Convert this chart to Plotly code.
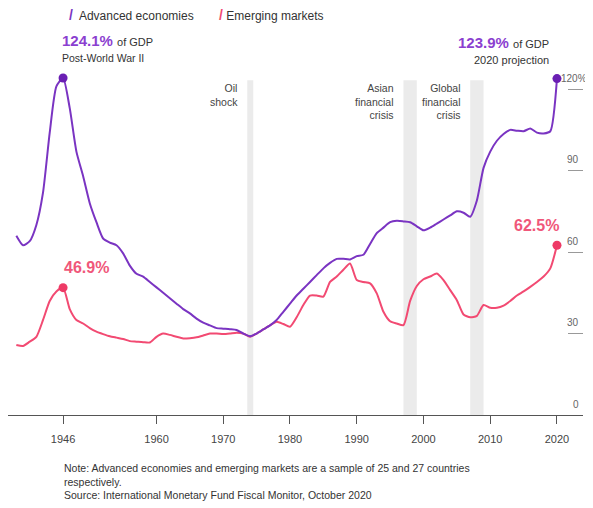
import plotly.graph_objects as go

# ---- data ----
years = list(range(1939, 2021))
advanced = [
    66, 62.5, 64, 70, 82, 104, 121, 124.1, 113, 97,          # 1939-1948
    88, 78, 71, 65, 63.5, 62.5, 59.5, 55, 52, 51,            # 1949-1958
    49, 47, 45, 43, 41, 39, 37.4, 35.5, 34, 33,              # 1959-1968
    32, 31.8, 31.6, 31.3, 30, 29, 30, 31.5, 33, 35,          # 1969-1978
    38, 41, 44, 46.5, 49, 51.5, 54, 56, 57.5, 57.5,          # 1979-1988
    57.3, 58.5, 59, 63, 67, 69, 71, 71.5, 71.3, 71,          # 1989-1998
    69.5, 68, 69, 70.5, 72, 73.5, 75, 74.5, 73, 79,          # 1999-2008
    91, 97, 101, 103.5, 105, 104.7, 104.5, 105.5, 104, 103.7,  # 2009-2018
    104.5, 123.9                                             # 2019-2020
]
emerging = [
    25.8, 25.4, 27, 28.8, 35, 42, 45.5, 46.9, 39, 35,        # 1939-1948
    33.7, 32, 30.7, 29.8, 29, 28.5, 28, 27.2, 27, 26.8,      # 1949-1958
    26.7, 28.8, 30, 29.5, 28.8, 28.2, 28.3, 28.6, 29.3, 30,  # 1959-1968
    30, 29.8, 30, 30.3, 30, 28.8, 30, 31.5, 33, 34.3,        # 1969-1978
    33.5, 32.5, 36, 40.5, 44, 44, 43.6, 49, 51, 53.5,        # 1979-1988
    55.8, 49.7, 49, 48.5, 44.8, 38, 34.5, 33.7, 33.1, 42,    # 1989-1998
    47.5, 50, 51, 52.1, 49.7, 46, 42.3, 37, 36, 36.5,        # 1999-2008
    40.5, 39.5, 39.5, 40.3, 42, 44, 45.5, 47.2, 49, 51,      # 2009-2018
    54, 62.5                                                 # 2019-2020
]
event_labels = ["Oil<br>shock", "Asian<br>financial<br>crisis", "Global<br>financial<br>crisis"]
event_start = [1973.6, 1997.0, 2007.0]
event_end = [1974.5, 1999.0, 2009.0]
xtick_vals = [1946, 1960, 1970, 1980, 1990, 2000, 2010, 2020]
ytick_vals = [0, 30, 60, 90, 120]
ytick_text = ["0", "30", "60", "90", "120%"]

PURPLE = "#7a34c2"
PURPLE_DOT = "#6a1fb3"
PURPLE_TXT = "#8b3fd0"
PINK = "#f24a72"
PINK_TXT = "#f0577a"
TXT = "#333333"
FONT = "Liberation Sans, Arial, sans-serif"

fig = go.Figure()

# event bands
for s, e in zip(event_start, event_end):
    fig.add_shape(type="rect", xref="x", yref="y", x0=s, x1=e, y0=0, y1=123.3,
                  fillcolor="#ebebeb", line_width=0, layer="below")

fig.add_trace(go.Scatter(x=years, y=emerging, mode="lines",
                         line=dict(color=PINK, width=2, shape="spline", smoothing=0.6),
                         name="Emerging markets", hoverinfo="skip"))
fig.add_trace(go.Scatter(x=years, y=advanced, mode="lines",
                         line=dict(color=PURPLE, width=2, shape="spline", smoothing=0.6),
                         name="Advanced economies", hoverinfo="skip"))

# highlighted points
adv_peak_i = advanced.index(max(advanced[:20]))
em_peak_i = emerging.index(max(emerging[:20]))
fig.add_trace(go.Scatter(x=[years[adv_peak_i], years[-1]], y=[advanced[adv_peak_i], advanced[-1]],
                         mode="markers", marker=dict(color=PURPLE_DOT, size=9), hoverinfo="skip"))
fig.add_trace(go.Scatter(x=[years[em_peak_i], years[-1]], y=[emerging[em_peak_i], emerging[-1]],
                         mode="markers", marker=dict(color="#ee3a66", size=9), hoverinfo="skip"))

ann = []
# event labels
for lab, s in zip(event_labels, event_start):
    ann.append(dict(x=s, y=123.3, xref="x", yref="y", text=lab, showarrow=False,
                    xanchor="right", yanchor="top", align="right", xshift=-7,
                    font=dict(size=10.5, color="#444")))

# right axis labels (the top one carries the unit and hangs a little further right)
for v, t in zip(ytick_vals, ytick_text):
    is_unit = t.endswith("%")
    ann.append(dict(x=1.011 if is_unit else 0.9965, y=v, xref="paper", yref="y", text=t,
                    showarrow=False, xanchor="right",
                    yanchor="middle", yshift=11, font=dict(size=10, color="#666")))

# legend
ann.append(dict(x=0.1026, y=1.133, xref="paper", yref="paper", showarrow=False,
                xanchor="left", yanchor="middle",
                text=f'<span style="color:{PURPLE};font-size:14px"><b>/</b></span>  Advanced economies',
                font=dict(size=12, color=TXT)))
ann.append(dict(x=0.3635, y=1.133, xref="paper", yref="paper", showarrow=False,
                xanchor="left", yanchor="middle",
                text=f'<span style="color:{PINK};font-size:14px"><b>/</b></span> Emerging markets',
                font=dict(size=12, color=TXT)))

# peak callouts
ann.append(dict(x=years[adv_peak_i], y=1.0595, xref="x", yref="paper", showarrow=False,
                xanchor="left", yanchor="middle", xshift=-3,
                text=f'<b>{advanced[adv_peak_i]}%</b> <span style="font-size:11px;color:{TXT}">of GDP</span>',
                font=dict(size=15, color=PURPLE_TXT)))
ann.append(dict(x=years[adv_peak_i], y=1.011, xref="x", yref="paper", showarrow=False,
                xanchor="left", yanchor="middle", xshift=-3,
                text="Post-World War II", font=dict(size=10.5, color=TXT)))
ann.append(dict(x=years[-1], y=1.0565, xref="x", yref="paper", showarrow=False,
                xanchor="right", yanchor="middle", xshift=-6,
                text=f'<b>{advanced[-1]}%</b> <span style="font-size:11px;color:{TXT}">of GDP</span>',
                font=dict(size=15, color=PURPLE_TXT)))
ann.append(dict(x=years[-1], y=1.006, xref="x", yref="paper", showarrow=False,
                xanchor="right", yanchor="middle", xshift=-6,
                text="2020 projection", font=dict(size=11, color=TXT)))
ann.append(dict(x=years[em_peak_i], y=emerging[em_peak_i], xref="x", yref="y", showarrow=False,
                xanchor="left", yanchor="middle", yshift=20, xshift=-1,
                text=f"<b>{emerging[em_peak_i]}%</b>", font=dict(size=16, color=PINK_TXT)))
ann.append(dict(x=years[-1], y=emerging[-1], xref="x", yref="y", showarrow=False,
                xanchor="right", yanchor="middle", yshift=20, xshift=4,
                text=f"<b>{emerging[-1]}%</b>", font=dict(size=16, color=PINK_TXT)))

# note
ann.append(dict(x=0.0939, y=-0.128, xref="paper", yref="paper", showarrow=False,
                xanchor="left", yanchor="top", align="left",
                text="Note: Advanced economies and emerging markets are a sample of 25 and 27 countries<br>"
                     "respectively.<br>Source: International Monetary Fund Fiscal Monitor, October 2020",
                font=dict(size=10.5, color=TXT)))

# page body has an 8px margin, so the figure is sized/offset to fit the 593x508 window
fig.update_layout(
    width=585, height=500,
    margin=dict(l=0, r=10, t=54, b=93),
    paper_bgcolor="white", plot_bgcolor="white",
    showlegend=False,
    font=dict(family=FONT, color=TXT),
    annotations=ann,
    xaxis=dict(range=[1937.75, 2023.9], tickvals=xtick_vals, ticks="outside", ticklen=8,
               tickcolor="#555", showline=True, linecolor="#555", linewidth=1,
               showgrid=False, zeroline=False, tickfont=dict(size=11, color="#444"),
               ticklabelstandoff=6, fixedrange=True),
    yaxis=dict(range=[0, 130], side="right", tickvals=ytick_vals[1:], ticks="inside",
               ticklen=15, tickcolor="#999", tickwidth=1, showticklabels=False,
               showgrid=False, zeroline=False, showline=False, fixedrange=True),
)

fig.write_html("out.html")
